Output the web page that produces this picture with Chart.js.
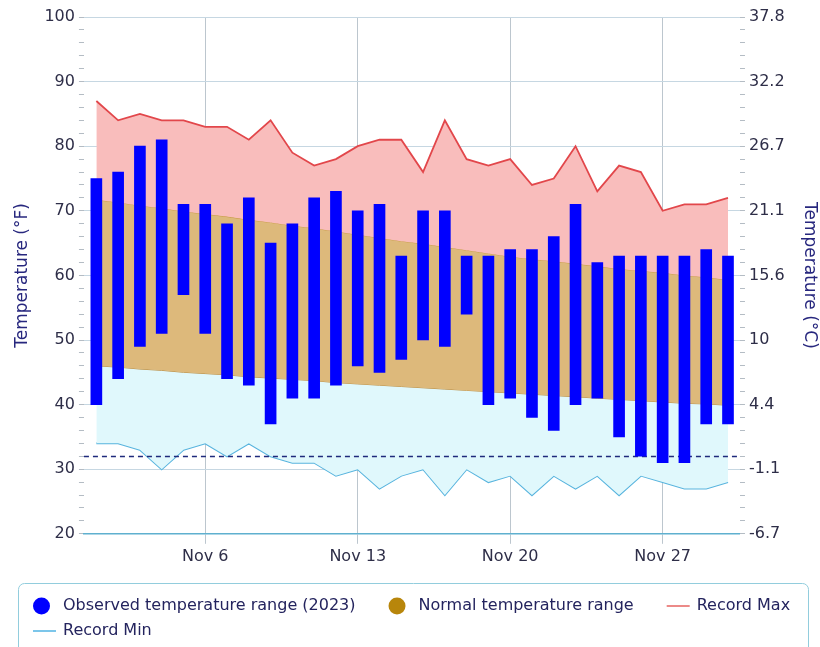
<!DOCTYPE html>
<html>
<head>
<meta charset="utf-8">
<script src="https://cdn.jsdelivr.net/npm/chart.js@4.4.1/dist/chart.umd.min.js"></script>
<style>
    html, body { margin: 0; padding: 0; background: #fff; }
</style>
</head>
<body>
<canvas id="grafico-temp" width="820" height="647"></canvas>
<script>
// dias de noviembre 2023
const dias = [1, 2, 3, 4, 5, 6, 7, 8, 9, 10, 11, 12, 13, 14, 15, 16, 17, 18, 19, 20, 21, 22, 23, 24, 25, 26, 27, 28, 29, 30];
const obsMin = [40, 44, 49, 51, 57, 51, 44, 43, 37, 41, 41, 43, 46, 45, 47, 50, 49, 54, 40, 41, 38, 36, 40, 41, 35, 32, 31, 31, 37, 37];
const obsMax = [75, 76, 80, 81, 71, 71, 68, 72, 65, 68, 72, 73, 70, 71, 63, 70, 70, 63, 63, 64, 64, 66, 71, 62, 63, 63, 63, 63, 64, 63];
const normalMax = [71.7, 71.3, 70.8, 70.4, 69.9, 69.5, 69.1, 68.6, 68.2, 67.7, 67.3, 66.8, 66.3, 65.8, 65.3, 64.9, 64.4, 63.9, 63.4, 62.9, 62.5, 62.2, 61.8, 61.4, 61.0, 60.7, 60.4, 60.0, 59.7, 59.3];
const normalMin = [46.0, 45.8, 45.5, 45.3, 45.0, 44.8, 44.6, 44.3, 44.1, 43.9, 43.7, 43.4, 43.2, 43.0, 42.8, 42.6, 42.4, 42.2, 42.0, 41.8, 41.6, 41.4, 41.2, 41.0, 40.8, 40.6, 40.4, 40.2, 40.1, 39.9];
const recordMax = [87, 84, 85, 84, 84, 83, 83, 81, 84, 79, 77, 78, 80, 81, 81, 76, 84, 78, 77, 78, 74, 75, 80, 73, 77, 76, 70, 71, 71, 72];
const recordMin = [34, 34, 33, 30, 33, 34, 32, 34, 32, 31, 31, 29, 30, 27, 29, 30, 26, 30, 28, 29, 26, 29, 27, 29, 26, 29, 28, 27, 27, 28];

const xTickDias = [6, 13, 20, 27];
const xTickLabels = ["Nov 6", "Nov 13", "Nov 20", "Nov 27"];
const fTicks = [20, 30, 40, 50, 60, 70, 80, 90, 100];
const cTicks = ["-6.7", "-1.1", "4.4", "10", "15.6", "21.1", "26.7", "32.2", "37.8"];
const CONGELACION = 32;

const legendLabels = ["Observed temperature range (2023)", "Normal temperature range", "Record Max", "Record Min"];
const legendColores = ["#0000ff", "#b8860b", "#ec8a88", "#7cc6ea"];
const legendTipos = ["circle", "circle", "line", "line"];

const FUENTE = '"DejaVu Sans", Verdana, sans-serif';
const puntos = (serie) => dias.map((d, i) => ({ x: d, y: serie[i] }));

// linea discontinua de 32°F, debajo de las barras
const lineaHelada = {
    id: "lineaHelada",
    beforeDatasetDraw(chart, args) {
        if (args.meta.type !== "bar") return;
        const { ctx, chartArea } = chart;
        const y = Math.round(chart.scales.y.getPixelForValue(CONGELACION)) + 0.5;
        ctx.save();
        ctx.strokeStyle = "#1f2a7c";
        ctx.lineWidth = 1.5;
        ctx.setLineDash([5, 4]);
        ctx.beginPath();
        ctx.moveTo(chartArea.left, y);
        ctx.lineTo(chartArea.right, y);
        ctx.stroke();
        ctx.restore();
    },
};

// leyenda dibujada a mano dentro de una caja
const leyenda = {
    id: "leyenda",
    afterDraw(chart) {
        const ctx = chart.ctx;
        const caja = { x: 18.5, y: 583.5, w: 790, h: 72 };
        ctx.save();
        ctx.strokeStyle = "#92cddd";
        ctx.lineWidth = 1;
        ctx.beginPath();
        ctx.roundRect(caja.x, caja.y, caja.w, caja.h, 6);
        ctx.stroke();

        ctx.font = "16px " + FUENTE;
        ctx.textBaseline = "middle";
        let x = 33;
        let y = 606;
        legendLabels.forEach((txt, i) => {
            const ancho = 30 + ctx.measureText(txt).width;
            if (x + ancho > caja.x + caja.w - 2) {
                x = 33;
                y += 25;
            }
            if (legendTipos[i] === "circle") {
                ctx.fillStyle = legendColores[i];
                ctx.beginPath();
                ctx.arc(x + 8.5, y, 8.5, 0, Math.PI * 2);
                ctx.fill();
            } else {
                ctx.strokeStyle = legendColores[i];
                ctx.lineWidth = 2;
                ctx.beginPath();
                ctx.moveTo(x, y);
                ctx.lineTo(x + 23, y);
                ctx.stroke();
            }
            ctx.fillStyle = "#24245e";
            ctx.fillText(txt, x + 30, y);
            x += ancho + 33;
        });
        ctx.restore();
    },
};

new Chart(document.getElementById("grafico-temp"), {
    type: "bar",
    data: {
        datasets: [
            {
                label: legendLabels[0],
                data: dias.map((d, i) => ({ x: d, y: [obsMin[i], obsMax[i]] })),
                backgroundColor: "#0000ff",
                barThickness: 11,
                order: 0,
            },
            {
                type: "line", label: legendLabels[2], data: puntos(recordMax),
                borderColor: "#e2474b", borderWidth: 1.8, pointRadius: 0, tension: 0,
                fill: 2, backgroundColor: "#f9bdbc", order: 1,
            },
            {
                type: "line", label: "Normal High", data: puntos(normalMax),
                borderColor: "#c99a45", borderWidth: 1, pointRadius: 0, tension: 0,
                fill: "+1", backgroundColor: "#ddb97b", order: 1,
            },
            {
                type: "line", label: "Normal Low", data: puntos(normalMin),
                borderColor: "#b99048", borderWidth: 1, pointRadius: 0, tension: 0,
                fill: "+1", backgroundColor: "#e0f8fc", order: 1,
            },
            {
                type: "line", label: legendLabels[3], data: puntos(recordMin),
                borderColor: "#58b4de", borderWidth: 2, pointRadius: 0, tension: 0,
                fill: false, order: 1,
            },
        ],
    },
    options: {
        responsive: false,
        animation: false,
        layout: { padding: { left: 10, right: 0, top: 17, bottom: 78 } },
        plugins: { legend: { display: false }, tooltip: { enabled: false } },
        scales: {
            x: {
                type: "linear", min: 0.43, max: 30.55, offset: false,
                afterBuildTicks: (eje) => { eje.ticks = xTickDias.map((v) => ({ value: v })); },
                ticks: {
                    color: "#2e2e48", font: { size: 16, family: FUENTE }, padding: 3,
                    callback: (v) => xTickLabels[xTickDias.indexOf(v)],
                },
                grid: { offset: false, color: "#bcc6ce", tickColor: "#bcc6ce", tickLength: 10 },
                border: { color: "#5fb0cf", width: 1.5 },
            },
            y: {
                position: "left", min: 20, max: 100,
                ticks: {
                    stepSize: 2, autoSkip: false, color: "#2e2e48", font: { size: 16, family: FUENTE }, padding: 4,
                    callback: (v) => (v % 10 === 0 ? v : ""),
                },
                grid: {
                    color: (c) => (c.tick && c.tick.value % 10 === 0 ? "#c6d7e2" : "rgba(0,0,0,0)"),
                    tickColor: "#b4bcc4", tickLength: 5,
                },
                border: { display: false },
                title: {
                    display: true, text: "Temperature (°F)", color: "#27277e",
                    font: { size: 17, family: FUENTE }, padding: { top: 2, bottom: 8 },
                },
            },
            y2: {
                position: "right", min: 20, max: 100,
                ticks: {
                    stepSize: 2, autoSkip: false, color: "#2e2e48", font: { size: 16, family: FUENTE }, padding: 4,
                    callback: (v) => { const i = fTicks.indexOf(v); return i >= 0 ? cTicks[i] : ""; },
                },
                grid: { drawOnChartArea: false, tickColor: "#b4bcc4", tickLength: 5 },
                border: { display: false },
                title: {
                    display: true, text: "Temperature (°C)", color: "#27277e",
                    font: { size: 17, family: FUENTE }, padding: { top: 0, bottom: 11 },
                },
            },
        },
    },
    plugins: [lineaHelada, leyenda],
});
</script>
</body>
</html>
